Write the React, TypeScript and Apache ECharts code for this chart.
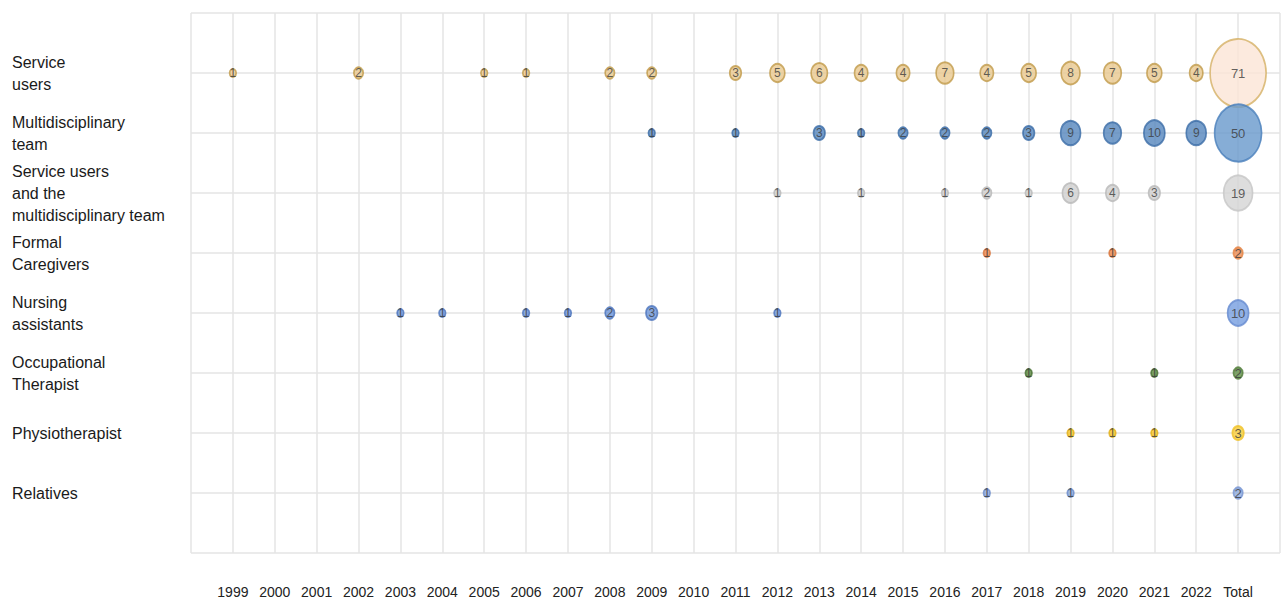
import React, { useEffect, useRef } from "react";
import * as echarts from "echarts";

const xLabels = ["1999","2000","2001","2002","2003","2004","2005","2006","2007","2008","2009","2010","2011","2012","2013","2014","2015","2016","2017","2018","2019","2020","2021","2022","Total"];
const rowLabels = [
  "Service\nusers",
  "Multidisciplinary\nteam",
  "Service users\nand the\nmultidisciplinary team",
  "Formal\nCaregivers",
  "Nursing\nassistants",
  "Occupational\nTherapist",
  "Physiotherapist",
  "Relatives",
];

// [label, value] pairs per row
const serviceUsers: [string, number][] = [["1999",1],["2002",2],["2005",1],["2006",1],["2008",2],["2009",2],["2011",3],["2012",5],["2013",6],["2014",4],["2015",4],["2016",7],["2017",4],["2018",5],["2019",8],["2020",7],["2021",5],["2022",4],["Total",71]];
const multidisciplinary: [string, number][] = [["2009",1],["2011",1],["2013",3],["2014",1],["2015",2],["2016",2],["2017",2],["2018",3],["2019",9],["2020",7],["2021",10],["2022",9],["Total",50]];
const suAndMdt: [string, number][] = [["2012",1],["2014",1],["2016",1],["2017",2],["2018",1],["2019",6],["2020",4],["2021",3],["Total",19]];
const formalCaregivers: [string, number][] = [["2017",1],["2020",1],["Total",2]];
const nursingAssistants: [string, number][] = [["2003",1],["2004",1],["2006",1],["2007",1],["2008",2],["2009",3],["2012",1],["Total",10]];
const occupational: [string, number][] = [["2018",1],["2021",1],["Total",2]];
const physiotherapist: [string, number][] = [["2019",1],["2020",1],["2021",1],["Total",3]];
const relatives: [string, number][] = [["2017",1],["2019",1],["Total",2]];

const rowsData = [serviceUsers, multidisciplinary, suAndMdt, formalCaregivers, nursingAssistants, occupational, physiotherapist, relatives];

const rowStyles = [
  { fill: "#e8c88f", stroke: "#c09a48", totalFill: "#fbe5d6", totalStroke: "#d4b064", hatch: false },
  { fill: "#5586bd", stroke: "#3a6ca6", totalFill: "#6898cc", totalStroke: "#4a7fbb", hatch: true },
  { fill: "#cfcfcf", stroke: "#b8b8b8", totalFill: "#d4d4d4", totalStroke: "#c6c6c6", hatch: true },
  { fill: "#ee8a4e", stroke: "#d8733a", totalFill: "#ee8c52", totalStroke: "#e58344", hatch: false },
  { fill: "#6b93d8", stroke: "#4c74bd", totalFill: "#769de0", totalStroke: "#6489d0", hatch: true },
  { fill: "#5a883f", stroke: "#476f32", totalFill: "#618f47", totalStroke: "#527d3b", hatch: false },
  { fill: "#f7c629", stroke: "#e2b017", totalFill: "#f8cd3a", totalStroke: "#f0c228", hatch: false },
  { fill: "#89a6dc", stroke: "#6a8bca", totalFill: "#8fabde", totalStroke: "#7895d2", hatch: false },
];

export default function App() {
  const ref = useRef<HTMLDivElement>(null);
  useEffect(() => {
    if (!ref.current) return;
    const chart = echarts.init(ref.current, null, { renderer: "svg", width: 1283, height: 601 });
    const series = rowsData.map((rows, ri) => {
      const st = rowStyles[ri];
      return {
        type: "scatter",
        name: rowLabels[ri],
        symbol: "circle",
        symbolSize: (val: number[]) => {
          const s = Math.sqrt(val[2]);
          return [6.65 * s, 8.1 * s];
        },
        itemStyle: {
          color: st.fill,
          borderColor: st.stroke,
          borderWidth: 1.8,
          decal: st.hatch
            ? { symbol: "rect", symbolSize: 1, dashArrayX: [1, 0], dashArrayY: [1.5, 2.5], rotation: -Math.PI / 4, color: "rgba(255,255,255,0.3)" }
            : "none",
        },
        label: {
          show: true,
          position: "inside",
          formatter: (p: any) => String(p.value[2]),
          color: "#3a3a3a",
          fontSize: 12,
          fontFamily: "Liberation Sans, Arial, sans-serif",
        },
        data: rows.map(([lab, v]) => {
          const isTotal = lab === "Total";
          return {
            value: [xLabels.indexOf(lab) + 1, ri + 1, v],
            itemStyle: isTotal ? { color: st.totalFill, borderColor: st.totalStroke } : undefined,
            label: isTotal ? { fontSize: 13 } : undefined,
          };
        }),
      };
    });
    chart.setOption({
      animation: false,
      aria: { enabled: true, decal: { show: true } },
      grid: { left: 191, right: 0, top: 13, bottom: 48, containLabel: false },
      xAxis: {
        type: "value",
        min: 0,
        max: xLabels.length + 1,
        interval: 1,
        axisLine: { show: false },
        axisTick: { show: false },
        splitLine: { show: true, lineStyle: { color: "#e4e4e4", width: 1.5 } },
        axisLabel: {
          margin: 32,
          fontSize: 14,
          color: "#222",
          fontFamily: "Liberation Sans Narrow, Liberation Sans, Arial, sans-serif",
          formatter: (v: number) => (v >= 1 && v <= xLabels.length ? xLabels[v - 1] : ""),
          showMinLabel: true,
          showMaxLabel: true,
        },
      },
      yAxis: {
        type: "value",
        inverse: true,
        min: 0,
        max: rowLabels.length + 1,
        interval: 1,
        axisLine: { show: false },
        axisTick: { show: false },
        splitLine: { show: true, lineStyle: { color: "#e4e4e4", width: 1.5 } },
        axisLabel: {
          align: "left",
          margin: 179,
          fontSize: 16,
          lineHeight: 22,
          color: "#1a1a1a",
          fontFamily: "Liberation Sans, Arial, sans-serif",
          formatter: (v: number) => (v >= 1 && v <= rowLabels.length ? rowLabels[v - 1] : ""),
        },
      },
      series,
    });
    return () => chart.dispose();
  }, []);
  return (
    <div
      ref={ref}
      style={{ position: "fixed", left: 0, top: 0, width: 1283, height: 601, background: "#fff" }}
    />
  );
}
